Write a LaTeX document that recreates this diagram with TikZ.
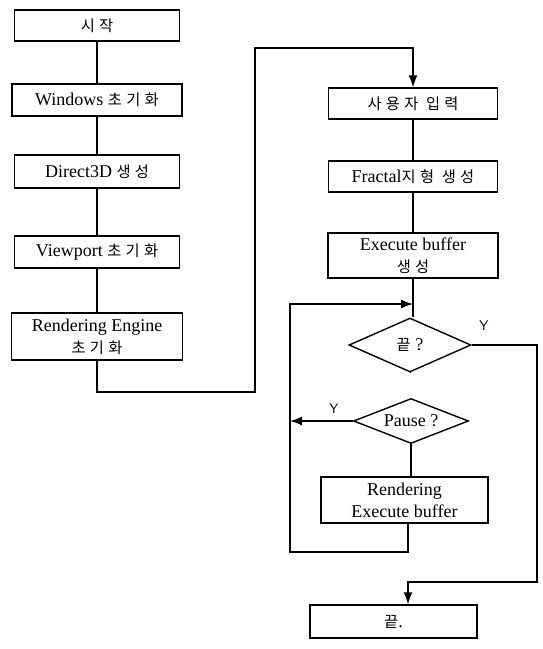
\documentclass[tikz,border=0pt]{standalone}
\usepackage{fontspec}
\setmainfont{Liberation Serif}
\newfontfamily\kr[LetterSpace=28,Scale=0.85]{Noto Sans CJK KR}
\usetikzlibrary{arrows.meta,shapes.geometric}
\tikzset{
	stepbox/.style={draw, line width=1.4pt, inner sep=0pt, align=center, font=\fontsize{18}{22}\selectfont},
	decision/.style={draw, diamond, aspect=2.5, line width=1.4pt, inner sep=0pt, font=\fontsize{18}{22}\selectfont},
	flow/.style={line width=1.4pt},
	tip/.style={flow, -{Latex[length=12pt,width=9pt]}},
	ylabel/.style={font=\sffamily\fontsize{14}{16}\selectfont}
}

\begin{document}
\begin{tikzpicture}[x=1pt,y=-1pt]
	\useasboundingbox (0,0) rectangle (542,649);
	% left column
	\node[stepbox, minimum width=165pt, minimum height=31pt] (start) at (97,25.5) {\kr 시작};
	\node[stepbox, minimum width=170pt, minimum height=32pt] (win) at (97,100) {Windows {\kr 초기화}};
	\node[stepbox, minimum width=165pt, minimum height=33pt] (d3d) at (97,171.5) {Direct3D {\kr 생성}};
	\node[stepbox, minimum width=165pt, minimum height=32pt] (vp) at (97,252) {Viewport {\kr 초기화}};
	\node[stepbox, minimum width=171pt, minimum height=47pt] (reng) at (97,336.5) {Rendering Engine\\{\kr 초기화}};
	% right column
	\node[stepbox, minimum width=169pt, minimum height=31pt] (input) at (413,103.5) {\kr 사용자 입력};
	\node[stepbox, minimum width=169pt, minimum height=31pt] (fract) at (413,176.5) {Fractal{\kr 지형 생성}};
	\node[stepbox, minimum width=170pt, minimum height=45pt] (exbuf) at (413,255.5) {Execute buffer\\{\kr 생성}};
	\node[decision, minimum width=122pt, minimum height=54pt] (endq) at (410,345) {{\kr 끝} ?};
	\node[decision, minimum width=115pt, minimum height=45pt] (pause) at (411,421) {Pause ?};
	\node[stepbox, minimum width=167pt, minimum height=46pt] (rend) at (404.5,500) {Rendering\\Execute buffer};
	\node[stepbox, minimum width=167pt, minimum height=33pt] (fin) at (393.5,621.5) {{\kr 끝}.};
	%
	\coordinate (c1) at (255,392);
	\coordinate (c2) at (255,48);
	\coordinate (lb) at (290,304);
	\coordinate (lp) at (290,552);
	\coordinate (r1) at (537,582);
	\coordinate (r2) at (408,582);
	%
	\draw[flow] (start) -- (win);
	\draw[flow] (win) -- (d3d);
	\draw[flow] (d3d) -- (vp);
	\draw[flow] (vp) -- (reng);
	\draw[tip] (reng.south) |- (c1) -- (c2) -| (input.north);
	\draw[flow] (input) -- (fract);
	\draw[flow] (fract) -- (exbuf);
	\draw[flow] (exbuf.south) -- (exbuf.south |- endq.north);
	\draw[flow] (endq.south) -- (endq.south -| pause.north);
	\draw[flow] (pause.south) -- (pause.south |- rend.north);
	\draw[tip] (rend.south -| r2) |- (lp) -- (lb) -- (lb -| exbuf.south);
	\draw[tip] (pause.west) -- (pause.west -| lb) node[pos=0.3, above=3pt, ylabel] {Y};
	\draw[tip] (endq.east) -| (r1) -- (r2) -- (r2 |- fin.north);
	\node[ylabel] (yend) at (484,326) {Y};
\end{tikzpicture}
\end{document}
